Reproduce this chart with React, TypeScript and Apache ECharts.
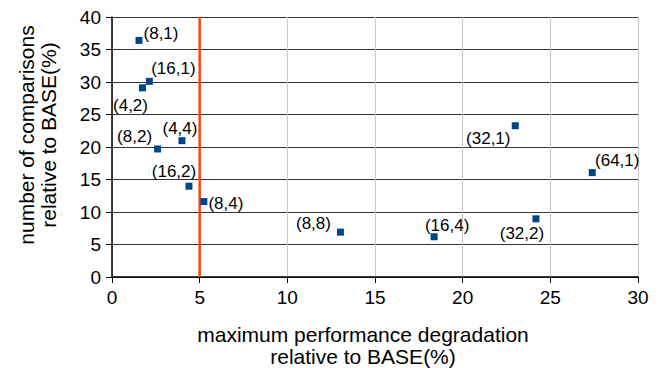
import React, { useEffect, useRef } from "react";
import * as echarts from "echarts";

const configLabels = ["(8,1)", "(16,1)", "(4,2)", "(8,2)", "(4,4)", "(16,2)", "(8,4)", "(8,8)", "(16,4)", "(32,2)", "(32,1)", "(64,1)"];
const degradation = [1.54, 2.13, 1.74, 2.6, 3.99, 4.39, 5.24, 13.03, 18.37, 24.18, 23.0, 27.39];
const comparisons = [36.4, 30.1, 29.1, 19.7, 20.97, 13.97, 11.6, 6.9, 6.19, 8.95, 23.27, 16.06];
const thresholdX = [5, 5];
const thresholdY = [0, 40];
const xTitle = "maximum performance degradation\nrelative to BASE(%)";
const yTitle = "number of comparisons\nrelative to BASE(%)";

const labelOffsets: number[][] = [
  [22, -7], [24, -13], [-12, 18], [-23, -12], [-2, -12], [-15, -15],
  [22, 2], [-27, -9], [13, -11], [-14, 15], [-27, 13], [25, -12],
];

export default function App() {
  const ref = useRef<HTMLDivElement>(null);
  useEffect(() => {
    if (!ref.current) return;
    const chart = echarts.init(ref.current, undefined, { renderer: "svg" });
    const font = "'Liberation Sans', Arial, sans-serif";
    const points = degradation.map((x, i) => ({
      value: [x, comparisons[i]],
      name: configLabels[i],
      label: { offset: labelOffsets[i] },
    }));
    chart.setOption({
      animation: false,
      textStyle: { fontFamily: font },
      grid: { left: 112, right: 27, top: 17, bottom: 91, outerBoundsMode: "none", containLabel: false },
      xAxis: {
        type: "value", min: 0, max: 30, interval: 5,
        axisLine: { show: true, onZero: false, lineStyle: { color: "#000", width: 1.5 } },
        axisTick: { show: true, inside: false, length: 6, lineStyle: { color: "#000" } },
        axisLabel: { color: "#000", fontSize: 19, margin: 11, fontFamily: font },
        splitLine: { show: true, lineStyle: { color: "#c8c8c8", width: 1 } },
      },
      yAxis: {
        type: "value", min: 0, max: 40, interval: 5,
        axisLine: { show: true, onZero: false, lineStyle: { color: "#000", width: 1.5 } },
        axisTick: { show: true, inside: false, length: 6, lineStyle: { color: "#000" } },
        axisLabel: { color: "#000", fontSize: 19, margin: 11, fontFamily: font },
        splitLine: { show: true, lineStyle: { color: "#333", width: 1 } },
      },
      graphic: [
        {
          type: "text", x: 363, y: 345, z: 10,
          style: { text: xTitle, fontSize: 21, fontFamily: font, fill: "#000", align: "center", verticalAlign: "middle", lineHeight: 22 },
        },
        {
          type: "text", x: 37, y: 135, rotation: Math.PI / 2, z: 10,
          style: { text: yTitle, fontSize: 21, fontFamily: font, fill: "#000", align: "center", verticalAlign: "middle", lineHeight: 22 },
        },
      ],
      series: [
        {
          type: "line",
          data: thresholdX.map((x, i) => [x, thresholdY[i]]),
          symbol: "none",
          silent: true,
          lineStyle: { color: "#ff420e", width: 2.5 },
          z: 3,
        },
        {
          type: "scatter",
          data: points,
          symbol: "rect",
          symbolSize: 7,
          itemStyle: { color: "#004586", opacity: 1 },
          z: 4,
          label: {
            show: true,
            position: "inside",
            formatter: (p: any) => p.name,
            color: "#000",
            fontSize: 17,
            fontFamily: font,
            align: "center",
            verticalAlign: "middle",
            textBorderWidth: 0,
          },
        },
      ],
    });
    return () => chart.dispose();
  }, []);
  return <div ref={ref} style={{ position: "absolute", left: 0, top: 0, width: 665, height: 368 }} />;
}
